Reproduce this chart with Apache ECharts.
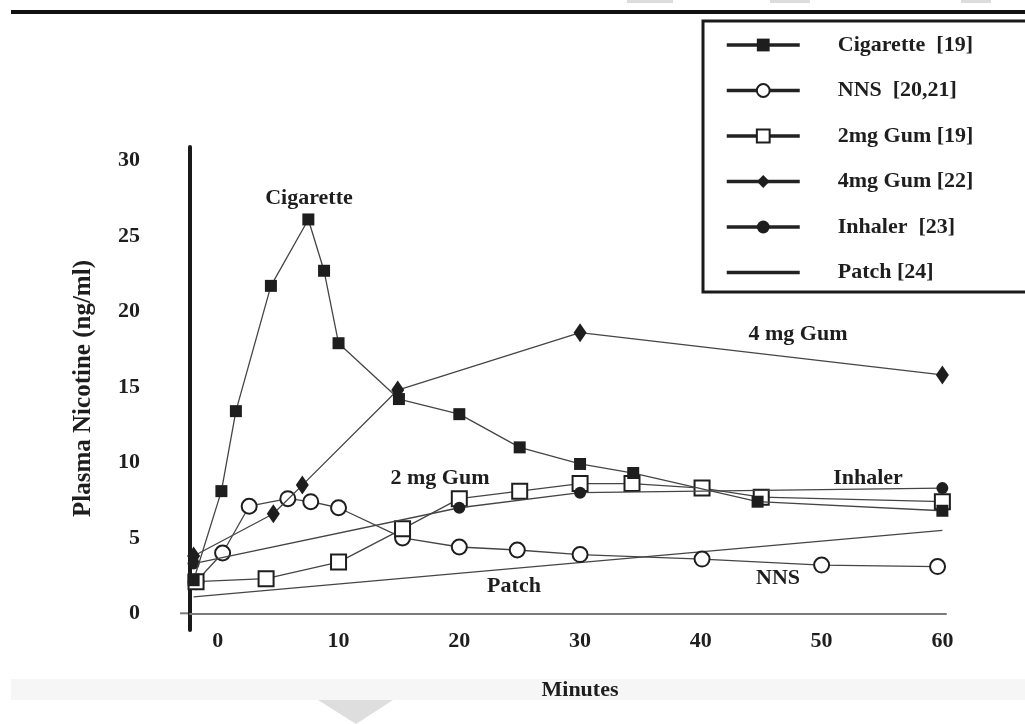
<!DOCTYPE html>
<html>
<head>
<meta charset="utf-8">
<script src="https://cdn.jsdelivr.net/npm/echarts@6/dist/echarts.min.js"></script>
<style>
html,body{margin:0;padding:0;background:#fff;}
#chart{width:1025px;height:724px;}
</style>
</head>
<body>
<div id="chart"></div>
<script>
// ---- data (minutes, ng/ml) ----
const cigarette = [[-2.0,2.2],[0.3,8.1],[1.5,13.4],[4.4,21.7],[7.5,26.1],[8.8,22.7],[10.0,17.9],[15,14.2],[20,13.2],[25,11.0],[30,9.9],[34.4,9.3],[44.7,7.4],[60,6.8]];
const nns = [[-1.8,2.1],[0.4,4.0],[2.6,7.1],[5.8,7.6],[7.7,7.4],[10.0,7.0],[15.3,5.0],[20,4.4],[24.8,4.2],[30,3.9],[40.1,3.6],[50,3.2],[59.6,3.1]];
const gum2 = [[-1.8,2.1],[4.0,2.3],[10,3.4],[15.3,5.6],[20,7.6],[25,8.1],[30,8.6],[34.3,8.6],[40.1,8.3],[45,7.7],[60,7.4]];
const gum4 = [[-2.0,3.8],[4.6,6.6],[7.0,8.5],[14.9,14.8],[30,18.6],[60,15.8]];
const inhaler = [[-2.0,3.3],[20,7.0],[30,8.0],[60,8.3]];
const patch = [[-2.0,1.1],[60,5.5]];
const seriesNames = ['Cigarette  [19]','NNS  [20,21]','2mg Gum [19]','4mg Gum [22]','Inhaler  [23]','Patch [24]'];
const xTicks = [0,10,20,30,40,50,60];
const yTicks = [0,5,10,15,20,25,30];
const annotations = ['Cigarette','4 mg Gum','2 mg Gum','Inhaler','Patch','NNS'];

const FONT = 'Liberation Serif';
const INK = '#1e1e1e';
const LINE = '#454545';
const FS = 22;

const chart = echarts.init(document.getElementById('chart'), null, {renderer:'canvas'});

function mk(name, data, symbol, size, fill, z) {
  return {
    name: name, type: 'line', data: data, z: z,
    symbol: symbol, symbolSize: size,
    showAllSymbol: true,
    animation: false,
    lineStyle: {color: LINE, width: 1.3},
    itemStyle: fill === 'open'
      ? {color: '#ffffff', borderColor: INK, borderWidth: 2}
      : {color: INK, borderWidth: 0},
    emphasis: {disabled: true}
  };
}

const annPos = [[309,198],[798,334],[440,478],[868,478],[514,586],[778,578]];

const legendData = seriesNames.map((n,i) => i === 5 ? {name: n, itemStyle: {opacity: 0}} : {name: n});

const option = {
  animation: false,
  backgroundColor: '#ffffff',
  grid: {left: 190, right: 79, top: 147, bottom: 94, containLabel: false},
  xAxis: {
    type: 'value', min: -2.3, max: 60.3,
    axisLine: {show: true, onZero: true, lineStyle: {color: '#7a7a7a', width: 2}},
    axisTick: {show: false},
    splitLine: {show: false},
    axisLabel: {customValues: xTicks, margin: 0, fontFamily: FONT, fontWeight: 'bold', fontSize: FS, color: INK}
  },
  yAxis: {
    type: 'value', min: -1.1, max: 30.9,
    name: 'Plasma Nicotine (ng/ml)', nameLocation: 'middle', nameGap: 94,
    nameTextStyle: {fontFamily: FONT, fontWeight: 'bold', fontSize: 25, color: INK},
    axisLine: {show: true, onZero: false, lineStyle: {color: '#1a1a1a', width: 4}},
    axisTick: {show: false},
    splitLine: {show: false},
    axisLabel: {customValues: yTicks, margin: 50, fontFamily: FONT, fontWeight: 'bold', fontSize: FS, color: INK}
  },
  legend: {
    orient: 'vertical', left: 720, top: 29,
    itemWidth: 73, itemHeight: 16, itemGap: 23.5,
    data: legendData,
    selectedMode: false,
    lineStyle: {width: 3.5, color: '#222'},
    textStyle: {fontFamily: FONT, fontWeight: 'bold', fontSize: FS, color: INK, lineHeight: 22, padding: [0,0,0,33]}
  },
  series: [
    mk(seriesNames[0], cigarette, 'rect', 12, 'filled', 6),
    mk(seriesNames[1], nns, 'circle', 15, 'open', 3),
    mk(seriesNames[2], gum2, 'rect', 15, 'open', 4),
    mk(seriesNames[3], gum4, 'diamond', [13,19], 'filled', 5),
    mk(seriesNames[4], inhaler, 'circle', 12, 'filled', 5),
    mk(seriesNames[5], patch, 'none', 0, 'filled', 2)
  ],
  graphic: [
    {type:'rect', shape:{x:11,y:10,width:1020,height:4}, style:{fill:'#111'}, silent:true},
    {type:'rect', shape:{x:627,y:0,width:46,height:3}, style:{fill:'#dcdcdc'}, silent:true},
    {type:'rect', shape:{x:770,y:0,width:40,height:3}, style:{fill:'#dcdcdc'}, silent:true},
    {type:'rect', shape:{x:961,y:0,width:30,height:3}, style:{fill:'#dcdcdc'}, silent:true},
    {type:'rect', shape:{x:703,y:21,width:340,height:271}, style:{fill:'none', stroke:'#1a1a1a', lineWidth:3}, silent:true},
    {type:'line', shape:{x1:180,y1:613.3,x2:190,y2:613.3}, style:{stroke:'#7a7a7a', lineWidth:2}, silent:true},
    {type:'rect', shape:{x:11,y:679,width:1014,height:21}, style:{fill:'#f6f6f6'}, silent:true, z:-1},
    {type:'polygon', shape:{points:[[318,700],[393,700],[356,724]]}, style:{fill:'#dedede'}, silent:true},
    {type:'text', x:580, y:690, style:{text:'Minutes', font:'bold 22px "Liberation Serif"', fill:INK, textAlign:'center', textVerticalAlign:'middle'}, silent:true}
  ].concat(annotations.map((t,i)=>({
    type:'text', x:annPos[i][0], y:annPos[i][1], z:10,
    style:{text:t, font:'bold 22px "Liberation Serif"', fill:INK, textAlign:'center', textVerticalAlign:'middle'}, silent:true
  })))
};
chart.setOption(option);
</script>
</body>
</html>
